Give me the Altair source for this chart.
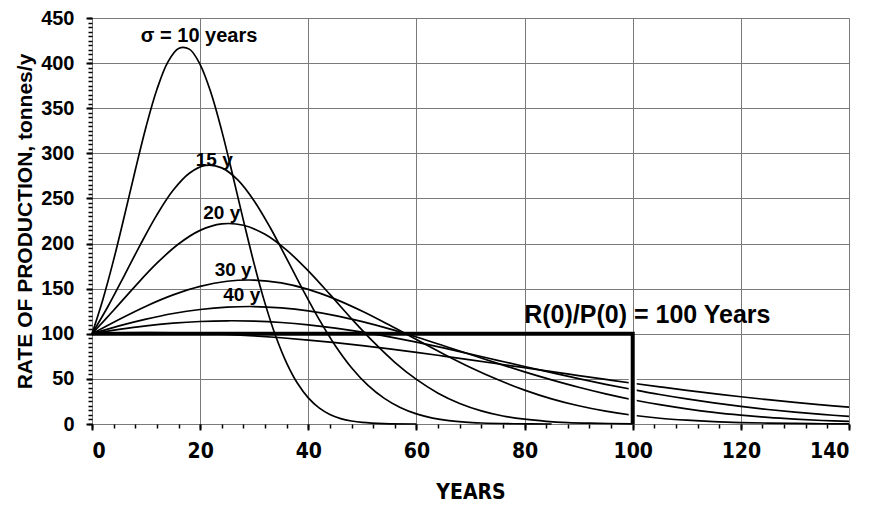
import altair as alt
import pandas as pd

# ---- curve data ----
years_s10 = [0, 2, 4, 6, 8, 10, 12, 14, 16, 18, 20, 22, 24, 26, 28, 30, 32, 34, 36, 38, 40, 42, 44, 46, 48, 50, 54, 60]
prod_s10 = [100, 137.8, 181.9, 230.8, 281.3, 329.5, 370.7, 400.8, 416.3, 415.5, 398.4, 367.1, 324.9, 276.3, 225.7,
            177.2, 133.7, 96.9, 67.5, 45.1, 29.0, 17.9, 10.6, 6.0, 3.3, 1.7, 0.4, 0]

years_s15 = [0, 3, 6, 9, 12, 15, 18, 21, 24, 27, 30, 33, 36, 39, 42, 45, 48, 51, 54, 57, 60, 63, 66, 69, 72, 78, 85]
prod_s15 = [100, 130.8, 164.8, 199.4, 231.8, 259.0, 277.9, 286.6, 283.9, 270.3, 247.2, 217.2, 183.3, 148.7, 115.9,
            86.8, 62.4, 43.1, 28.7, 18.3, 11.2, 6.6, 3.7, 2.0, 1.1, 0.3, 0]

years_s20 = [0, 4, 8, 12, 16, 20, 24, 28, 32, 36, 40, 44, 48, 52, 56, 60, 64, 68, 72, 76, 80, 84, 88, 92, 100]
prod_s20 = [100, 126.1, 152.9, 178.2, 199.5, 214.6, 221.8, 220.3, 210.2, 192.7, 169.7, 143.6, 116.7, 91.2, 68.4,
            49.4, 34.2, 22.8, 14.6, 8.9, 5.3, 3.0, 1.6, 0.9, 0.2]

years_s30 = [0, 5, 10, 15, 20, 25, 30, 35, 40, 45, 50, 55, 60, 65, 70, 75, 80, 85, 90, 95, 100,
             105, 110, 115, 120, 125, 130, 135, 140]
prod_s30 = [100, 115.9, 130.6, 143.1, 152.6, 158.2, 159.5, 156.4, 149.2, 138.4, 124.9, 109.6, 93.6, 77.7, 62.7,
            49.3, 37.6, 27.9, 20.2, 14.2, 9.7, 6.4, 4.2, 2.6, 1.6, 1.0, 0.6, 0.3, 0.2]

years_s40 = years_s30
prod_s40 = [100, 108.8, 116.3, 122.5, 126.9, 129.5, 130.2, 128.7, 125.4, 120.2, 113.4, 105.4, 96.4, 86.8, 77.0,
            67.2, 57.8, 48.9, 40.7, 33.4, 26.9, 21.4, 16.8, 12.9, 9.8, 7.3, 5.4, 3.9, 2.8]

years_s50 = years_s30
prod_s50 = [100, 104.8, 108.8, 111.7, 113.6, 114.4, 114.0, 112.5, 109.9, 106.3, 101.9, 96.6, 90.7, 84.3, 77.5,
            70.6, 63.7, 56.9, 50.3, 44.0, 38.2, 32.7, 27.8, 23.4, 19.5, 16.1, 13.1, 10.6, 8.5]

years_s70 = years_s30
prod_s70 = [100, 100.9, 101.3, 101.1, 100.5, 99.3, 97.7, 95.6, 93.0, 90.1, 86.8, 83.2, 79.4, 75.3, 71.1,
            66.8, 62.4, 58.0, 53.7, 49.4, 45.2, 41.2, 37.3, 33.7, 30.2, 27.0, 23.9, 21.2, 18.6]

# constant production R(0)/P(0) = 100 years
box_years = [0, 100, 100]
box_prod = [100, 100, 0]

# labels
sigma_label = ["σ = 10 years"]
sigma_label_year = [19.8]
sigma_label_prod = [430]
curve_labels = ["15 y", "20 y", "30 y", "40 y"]
curve_label_years = [22.6, 24.0, 26.1, 27.7]
curve_label_prod = [293, 234, 171, 143]
box_label = ["R(0)/P(0) = 100 Years"]
box_label_year = [102.7]
box_label_prod = [121]

x_major = list(range(0, 141, 20))
x_minor = list(range(0, 141, 4))
y_major = list(range(0, 451, 50))
y_minor = list(range(0, 451, 5))

# ---- build tables ----
series = [("10", years_s10, prod_s10), ("15", years_s15, prod_s15), ("20", years_s20, prod_s20),
          ("30", years_s30, prod_s30), ("40", years_s40, prod_s40), ("50", years_s50, prod_s50),
          ("70", years_s70, prod_s70)]
rows = []
for name, ys, ps in series:
    for t, p in zip(ys, ps):
        rows.append({"sigma": name, "t": t, "p": p})
curves = pd.DataFrame(rows)
box = pd.DataFrame({"t": box_years, "p": box_prod, "i": list(range(len(box_years)))})
slab = pd.DataFrame({"text": sigma_label, "t": sigma_label_year, "p": sigma_label_prod})
lab = pd.DataFrame({"text": curve_labels, "t": curve_label_years, "p": curve_label_prod})
blab = pd.DataFrame({"text": box_label, "t": box_label_year, "p": box_label_prod})

XS = alt.Scale(domain=[0, 140], nice=False, zero=False)
YS = alt.Scale(domain=[0, 450], nice=False, zero=False)
FONT = "Liberation Sans"
NARROW = "Liberation Sans Narrow, DejaVu Sans Condensed, Liberation Sans"

main = alt.Chart(curves).mark_line(color="black", strokeWidth=1.7, interpolate="catmull-rom").encode(
    x=alt.X("t:Q", scale=XS, axis=alt.Axis(
        values=x_major, grid=True, gridColor="#7a7a7a", gridWidth=1, domain=False,
        tickSize=6, tickWidth=2, tickColor="black", labelFont=NARROW, labelFontSize=21,
        labelFontWeight="bold", labelColor="black", labelPadding=10, title="YEARS",
        titleFont=NARROW, titleFontSize=21, titleFontWeight="bold", titleColor="black",
        titlePadding=20, orient="bottom")),
    y=alt.Y("p:Q", scale=YS, axis=alt.Axis(
        values=y_major, grid=True, gridColor="#7a7a7a", gridWidth=1, domain=False,
        tickSize=6, tickWidth=2, tickColor="black", labelFont=FONT, labelFontSize=20,
        labelFontWeight="bold", labelColor="black", labelPadding=12,
        title="RATE OF PRODUCTION, tonnes/y", titleFont=FONT, titleFontSize=21,
        titleFontWeight="bold", titleColor="black", titlePadding=5, orient="left")),
    detail="sigma:N",
)

minor = alt.Chart(curves).mark_point(opacity=0).encode(
    x=alt.X("t:Q", scale=XS, axis=alt.Axis(values=x_minor, labels=False, grid=False, domain=False,
                                            tickSize=4, tickWidth=1.5, tickColor="black", title=None,
                                            orient="bottom")),
    y=alt.Y("p:Q", scale=YS, axis=alt.Axis(values=y_minor, labels=False, grid=False, domain=False,
                                            tickSize=4, tickWidth=1.5, tickColor="black", title=None,
                                            orient="left")),
)

gap = alt.Chart(pd.DataFrame({"t": [box_years[1]], "a": [1], "b": [95]})).mark_rule(
    color="white", strokeWidth=8).encode(
    x=alt.X("t:Q", scale=XS, axis=None),
    y=alt.Y("a:Q", scale=YS, axis=None), y2="b:Q")

boxline = alt.Chart(box).mark_line(color="black", strokeWidth=4).encode(
    x=alt.X("t:Q", scale=XS, axis=None), y=alt.Y("p:Q", scale=YS, axis=None), order="i:Q")

slabels = alt.Chart(slab).mark_text(font=FONT, fontSize=20, fontWeight="bold", color="black").encode(
    x=alt.X("t:Q", scale=XS, axis=None), y=alt.Y("p:Q", scale=YS, axis=None), text="text:N")

labels = alt.Chart(lab).mark_text(font=FONT, fontSize=19, fontWeight="bold", color="black").encode(
    x=alt.X("t:Q", scale=XS, axis=None), y=alt.Y("p:Q", scale=YS, axis=None), text="text:N")

blabels = alt.Chart(blab).mark_text(font=FONT, fontSize=25, fontWeight="bold", color="black").encode(
    x=alt.X("t:Q", scale=XS, axis=None), y=alt.Y("p:Q", scale=YS, axis=None), text="text:N")

chart = alt.layer(main, minor, gap, boxline, slabels, labels, blabels).resolve_axis(
    x="independent", y="independent"
).properties(
    width=757, height=406,
    autosize=alt.AutoSizeParams(type="none"),
    padding={"left": 84, "top": 10, "right": 12, "bottom": 80},
).configure_view(stroke="black", strokeWidth=3.5).configure(background="white")

chart.save("out.html", embed_options={"renderer": "svg", "actions": False})
